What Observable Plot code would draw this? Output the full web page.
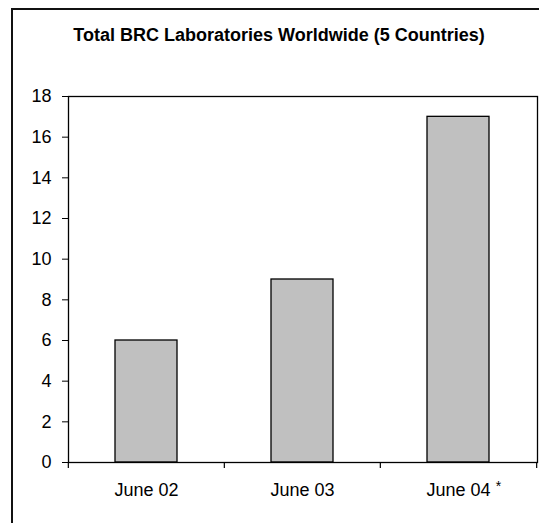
<!DOCTYPE html>
<html>
<head>
<meta charset="utf-8">
<script src="https://cdn.jsdelivr.net/npm/d3@7"></script>
<script src="https://cdn.jsdelivr.net/npm/@observablehq/plot@0.6"></script>
<style>
  html, body { margin: 0; padding: 0; background: #fff; }
  #wrap { position: relative; width: 539px; height: 523px; overflow: hidden; font-family: "Liberation Sans", Arial, sans-serif; }
  #border { position: absolute; left: 11px; top: 8px; width: 600px; height: 600px; border-left: 2px solid #111; border-top: 2px solid #111; }
  #title { position: absolute; left: 0; width: 558px; top: 25px; line-height: 20px; text-align: center; font-weight: bold; font-size: 18px; color: #000; white-space: nowrap; }
  #chart { position: absolute; left: 0; top: 0; }
</style>
</head>
<body>
<div id="wrap">
  <div id="border"></div>
  <div id="title">Total BRC Laboratories Worldwide (5 Countries)</div>
  <div id="chart"></div>
</div>
<script>
const categories = ["June 02", "June 03", "June 04"];
const values = [6, 9, 17];
const yTicks = [0, 2, 4, 6, 8, 10, 12, 14, 16, 18];
const footnoteCategory = "June 04";

const data = categories.map((c, i) => ({category: c, value: values[i]}));

const W = 539, H = 523;
const mL = 68, mR = 2, mT = 96, mB = 61;
const step = (W - mL - mR) / categories.length;

const chart = Plot.plot({
  width: W,
  height: H,
  marginLeft: mL,
  marginRight: mR,
  marginTop: mT,
  marginBottom: mB,
  style: {fontFamily: "'Liberation Sans', Arial, sans-serif", fontSize: "18px", color: "#000", background: "transparent"},
  x: {domain: categories, paddingInner: 0.6, paddingOuter: 0.3, label: null},
  y: {domain: [0, 18], label: null},
  marks: [
    Plot.barY(data, {x: "category", y: "value", fill: "#c0c0c0", stroke: "#000", strokeWidth: 1.3}),
    Plot.frame({stroke: "#000", strokeWidth: 1.3}),
    Plot.axisY({ticks: yTicks, tickSize: 6, tickPadding: 11, fontSize: 18, label: null, stroke: "#000"}),
    Plot.axisX({tickSize: 0, tickPadding: 21, fontSize: 18, label: null}),
    Plot.ruleX(categories, {x: d => d, y1: 0, y2: -0.3, dx: -step / 2, stroke: "#000", strokeWidth: 1.2}),
    Plot.ruleX([categories[categories.length - 1]], {x: d => d, y1: 0, y2: -0.3, dx: step / 2, stroke: "#000", strokeWidth: 1.2}),
    Plot.text([footnoteCategory], {x: d => d, text: () => "*", frameAnchor: "bottom", dy: 28, dx: 40, fontSize: 14})
  ]
});
document.getElementById("chart").appendChild(chart);
</script>
</body>
</html>
